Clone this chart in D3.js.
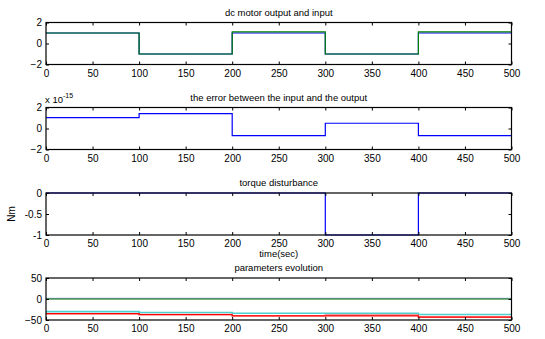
<!DOCTYPE html>
<html>
<head>
<meta charset="utf-8">
<script src="https://cdn.jsdelivr.net/npm/d3@7/dist/d3.min.js"></script>
<style>
  html, body { margin: 0; padding: 0; background: #fff; }
  svg { display: block; font-family: "Liberation Sans", Arial, sans-serif; }
</style>
</head>
<body>
<svg id="fig" width="545" height="339"></svg>
<script>
// Segment start times; each series holds one value per segment (held until the next start).
const segStarts = [0, 100, 200, 300, 400];
const tEnd = 500;
const xTicks = [0, 50, 100, 150, 200, 250, 300, 350, 400, 450, 500];

// Panel 1: reference input and motor output
const motorInput  = [1, -1, 1, -1, 1];
const motorOutput = [1, -1, 1.1, -1, 1.1];

// Panel 2: tracking error (x 1e-15)
const trackError = [1.04, 1.42, -0.68, 0.5, -0.68];

// Panel 3: torque disturbance (Nm)
const torqueDist = [0, 0, 0, -1, 0];

// Panel 4: adapted parameters
const paramA = [1.5, 1.5, 1.5, 1.5, 1.5];
const paramB = [0, 0, 0, 0, 0];
const paramC = [-30, -32, -34, -34, -37];
const paramD = [-35, -37, -40, -40, -43];
const paramE = [-35, -37, -40, -38.5, -43];

const svg = d3.select("#fig");
const x = d3.scaleLinear().domain([0, tEnd]).range([46, 511.5]);

function stepPoints(vals) {
  const pts = vals.map((v, i) => [segStarts[i], v]);
  pts.push([tEnd, vals[vals.length - 1]]);
  return pts;
}

function panel(opts) {
  const y = d3.scaleLinear().domain(opts.yDomain).range([opts.bottom, opts.top]);
  const g = svg.append("g");

  // plot box
  g.append("rect")
    .attr("x", x(0)).attr("y", opts.top)
    .attr("width", x(tEnd) - x(0)).attr("height", opts.bottom - opts.top)
    .attr("fill", "#fff");

  const line = d3.line().x(d => x(d[0])).y(d => y(d[1])).curve(d3.curveStepAfter);
  opts.series.forEach(s => {
    g.append("path")
      .datum(stepPoints(s.values))
      .attr("d", line)
      .attr("fill", "none")
      .attr("stroke", s.color)
      .attr("stroke-width", s.width || 1.2);
  });

  // axes with inward ticks on all four sides
  const tk = 3;
  g.append("g").attr("transform", `translate(0,${opts.bottom})`)
    .call(d3.axisBottom(x).tickValues(xTicks).tickSizeInner(-tk).tickSizeOuter(0).tickPadding(5))
    .call(a => a.select(".domain").remove());
  g.append("g").attr("transform", `translate(0,${opts.top})`)
    .call(d3.axisTop(x).tickValues(xTicks).tickSizeInner(-tk).tickSizeOuter(0).tickFormat(""))
    .call(a => a.select(".domain").remove());
  g.append("g").attr("transform", `translate(${x(0)},0)`)
    .call(d3.axisLeft(y).tickValues(opts.yTicks).tickSizeInner(-tk).tickSizeOuter(0).tickPadding(4).tickFormat(opts.yFormat || d3.format("")))
    .call(a => a.select(".domain").remove());
  g.append("g").attr("transform", `translate(${x(tEnd)},0)`)
    .call(d3.axisRight(y).tickValues(opts.yTicks).tickSizeInner(-tk).tickSizeOuter(0).tickFormat(""))
    .call(a => a.select(".domain").remove());

  g.selectAll(".tick text").attr("font-size", 10).attr("fill", "#000")
    .attr("font-family", "'Liberation Sans', Arial, sans-serif");
  g.selectAll(".tick line").attr("stroke", "#000");

  g.append("rect")
    .attr("x", x(0)).attr("y", opts.top)
    .attr("width", x(tEnd) - x(0)).attr("height", opts.bottom - opts.top)
    .attr("fill", "none").attr("stroke", "#000").attr("stroke-width", 1.2);

  g.append("text")
    .attr("x", (x(0) + x(tEnd)) / 2).attr("y", opts.top - 7)
    .attr("text-anchor", "middle").attr("font-size", 9.5)
    .text(opts.title);
  return { g, y };
}

panel({
  top: 22.5, bottom: 64.5, yDomain: [-2, 2], yTicks: [-2, 0, 2],
  title: "dc motor output and input",
  series: [
    { values: motorInput, color: "#0000ff" },
    { values: motorOutput, color: "#008000" }
  ]
});

const p2 = panel({
  top: 107.5, bottom: 149.5, yDomain: [-2, 2], yTicks: [-2, 0, 2],
  title: "the error between the input and the output",
  series: [{ values: trackError, color: "#0000ff" }]
});
const mult = p2.g.append("text").attr("x", 45).attr("y", 103).attr("font-size", 9.5);
mult.append("tspan").text("x 10");
mult.append("tspan").attr("dy", -5).attr("font-size", 7).text("-15");

const p3 = panel({
  top: 193, bottom: 235, yDomain: [-1, 0], yTicks: [-1, -0.5, 0],
  yFormat: d => d === 0 ? "0" : String(d),
  title: "torque disturbance",
  series: [{ values: torqueDist, color: "#0000ff" }]
});
p3.g.append("text")
  .attr("transform", "translate(15,214) rotate(-90)")
  .attr("text-anchor", "middle").attr("font-size", 10).text("Nm");
p3.g.append("text")
  .attr("x", (x(0) + x(tEnd)) / 2).attr("y", 257)
  .attr("text-anchor", "middle").attr("font-size", 9.5).text("time(sec)");

panel({
  top: 278, bottom: 320, yDomain: [-50, 50], yTicks: [-50, 0, 50],
  title: "parameters evolution",
  series: [
    { values: paramA, color: "#9fb8e0" },
    { values: paramB, color: "#006400" },
    { values: paramC, color: "#4fd0d0", width: 1.6 },
    { values: paramE, color: "#f08080", width: 1.6 },
    { values: paramD, color: "#ff0000" }
  ]
});
</script>
</body>
</html>
